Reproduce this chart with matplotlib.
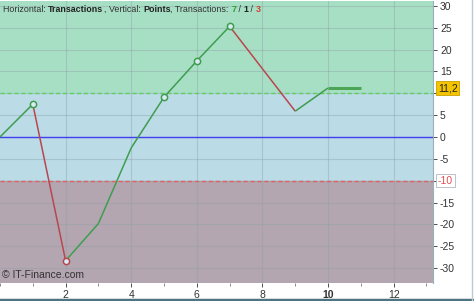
import numpy as np
import matplotlib.pyplot as plt
from matplotlib.ticker import MultipleLocator

plt.rcParams['font.family'] = ['Liberation Sans', 'DejaVu Sans']

# cumulative points after each transaction
trades = [0, 1, 2, 3, 4, 5, 6, 7, 8, 9, 10, 11]
points = [0, 7.5, -28.3, -19.8, -2.5, 9.1, 17.4, 25.3, 15.6, 5.9, 11.2, 11.2]
marked = [1, 2, 5, 6, 7]
upper_level = 10
lower_level = -10
last_value = "11,2"
y_ticks = [-30, -25, -20, -15, -10, -5, 0, 5, 10, 15, 20, 25, 30]
x_ticks = [2, 4, 6, 8, 10, 12]

green = "#3f9d4f"
red = "#b8474f"

fig = plt.figure(figsize=(4.74, 3.01), dpi=100)
fig.patch.set_facecolor("white")
ax = fig.add_axes([0, 1 - 283 / 301, 433 / 474, 282 / 301])

xmin, xmax = 0, 13.2
ymin, ymax = -33.4, 31.1
ax.set_xlim(xmin, xmax)
ax.set_ylim(ymin, ymax)

# background zones
ax.axhspan(upper_level, ymax, color="#a7dfc4", zorder=0)
ax.axhspan(lower_level, upper_level, color="#bbdbe6", zorder=0)
ax.axhspan(ymin, lower_level, color="#b4a6b1", zorder=0)

ax.grid(True, color="#8aa0a8", alpha=0.4, lw=0.8, zorder=1)
ax.xaxis.set_major_locator(MultipleLocator(2))
ax.xaxis.set_minor_locator(MultipleLocator(1))
ax.yaxis.set_major_locator(MultipleLocator(5))

ax.axhline(upper_level, color="#5ccf5c", ls=(0, (3, 2)), lw=1, zorder=2)
ax.axhline(lower_level, color="#e06060", ls=(0, (3, 2)), lw=1, zorder=2)
ax.axhline(0, color="#4040f0", lw=1, zorder=2)

# equity segments: green up, red down, flat thicker
for i in range(len(points) - 1):
    d = points[i + 1] - points[i]
    if d > 0:
        c, w = green, 1.1
    elif d < 0:
        c, w = red, 1.1
    else:
        c, w = "#4aa556", 2.2
    ax.plot(trades[i:i + 2], points[i:i + 2], color=c, lw=w, zorder=3,
            solid_capstyle="butt")

for i in marked:
    c = red if points[i] < points[i - 1] else green
    ax.plot(trades[i], points[i], "o", ms=4.5, mfc="#d8ecf2", mec=c, mew=1.1, zorder=4)

# axes styling
for s in ax.spines.values():
    s.set_visible(False)
ax.spines["right"].set_visible(True)
ax.spines["right"].set_color("#9ab0b8")
ax.yaxis.tick_right()
ax.set_yticks(y_ticks)
ax.set_yticklabels([str(v) if v not in (upper_level, lower_level) else "" for v in y_ticks])
ax.set_xticks(x_ticks)
ax.tick_params(axis="both", labelsize=7.5, colors="#333333", length=3, width=0.6)
ax.tick_params(axis="x", which="minor", length=2, width=0.6, colors="#777777")
ax.tick_params(axis="x", pad=2)
ax.tick_params(axis="y", pad=2)
for lbl in ax.get_xticklabels():
    if lbl.get_text() == "10":
        lbl.set_fontweight("bold")

# level labels on the right axis
ax.text(xmax + 0.15, upper_level + 1.2, last_value, fontsize=7.5, color="#222222",
        va="center", ha="left", zorder=6, clip_on=False,
        bbox=dict(boxstyle="square,pad=0.15", fc="#f5c400", ec="#c8a000", lw=0.6))
ax.text(xmax + 0.15, lower_level, str(lower_level), fontsize=7.5, color="#e05050",
        va="center", ha="left", clip_on=False,
        bbox=dict(boxstyle="square,pad=0.15", fc="white", ec="#b0b8c0", lw=0.6))

# header line with mixed styles
parts = [("Horizontal: ", "#333333", "normal"), ("Transactions", "#222222", "bold"),
         (", Vertical: ", "#333333", "normal"), ("Points", "#222222", "bold"),
         (", Transactions: ", "#333333", "normal"), ("7", "#2f9e2f", "bold"),
         (" / ", "#333333", "normal"), ("1", "#222222", "bold"),
         (" / ", "#333333", "normal"), ("3", "#d04030", "bold")]
fig.canvas.draw()
renderer = fig.canvas.get_renderer()
x = 3
for txt, col, wt in parts:
    t = fig.text(x / 474, 1 - 9 / 301, txt, fontsize=6.4, color=col, fontweight=wt,
                 va="center", ha="left")
    x += t.get_window_extent(renderer).width

ax.text(0.004, 0.03, "© IT-Finance.com", transform=ax.transAxes, fontsize=7.5,
        color="#333333", va="center", ha="left")

# outer frame
fig.add_artist(plt.Line2D([0, 1], [1.5 / 301, 1.5 / 301], color="#4c7482", lw=2.5))
fig.add_artist(plt.Line2D([472 / 474, 472 / 474], [0, 1], color="#c0c8cc", lw=1))

fig.savefig("out.png", dpi=100)
